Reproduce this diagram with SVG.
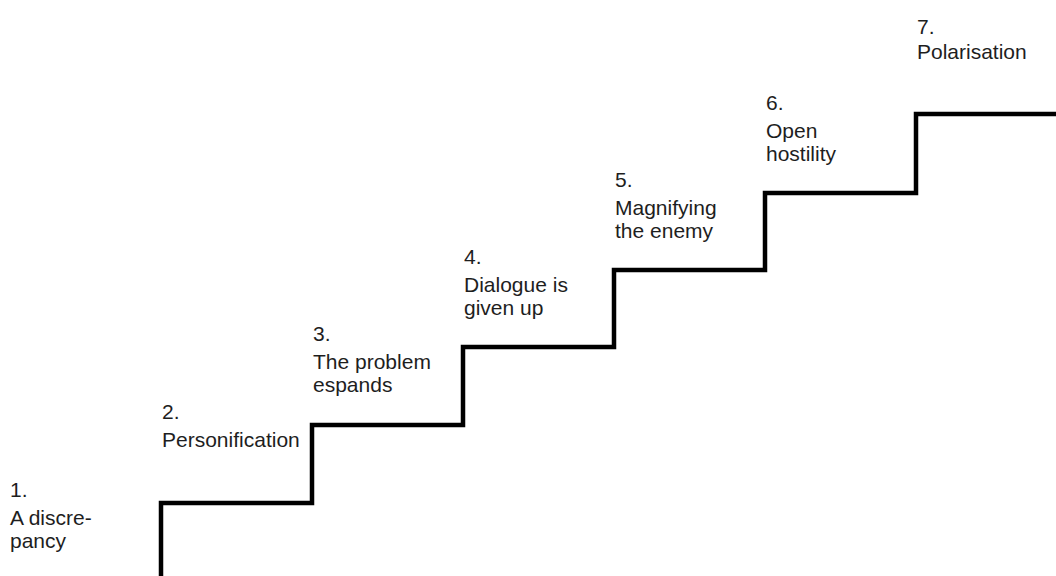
<svg xmlns="http://www.w3.org/2000/svg" width="1056" height="576" viewBox="0 0 1056 576">
<style>
.lbl{font-family:"Liberation Sans",Arial,sans-serif;font-size:21px;fill:#1e1e1e}
.stair{fill:none;stroke:#000;stroke-width:4.5;stroke-linejoin:miter;stroke-linecap:butt}
</style>
<rect width="1056" height="576" fill="#fff"/>
<g id="connectors">
<path class="stair" d="M161,576 V503 H312 V425 H463 V347 H614 V270 H765 V193 H916 V114 H1056"/>
</g>
<g id="step1"><text class="lbl" x="10" y="497">1.<tspan x="10" dy="28">A discre-</tspan><tspan x="10" dy="23">pancy</tspan></text></g>
<g id="step2"><text class="lbl" x="162" y="419">2.<tspan x="162" dy="28">Personification</tspan></text></g>
<g id="step3"><text class="lbl" x="313" y="341">3.<tspan x="313" dy="28">The problem</tspan><tspan x="313" dy="23">espands</tspan></text></g>
<g id="step4"><text class="lbl" x="464" y="264">4.<tspan x="464" dy="28">Dialogue is</tspan><tspan x="464" dy="23">given up</tspan></text></g>
<g id="step5"><text class="lbl" x="615" y="187">5.<tspan x="615" dy="28">Magnifying</tspan><tspan x="615" dy="23">the enemy</tspan></text></g>
<g id="step6"><text class="lbl" x="766" y="110">6.<tspan x="766" dy="28">Open</tspan><tspan x="766" dy="23">hostility</tspan></text></g>
<g id="step7"><text class="lbl" x="917" y="34">7.<tspan x="917" dy="25">Polarisation</tspan></text></g>
</svg>
